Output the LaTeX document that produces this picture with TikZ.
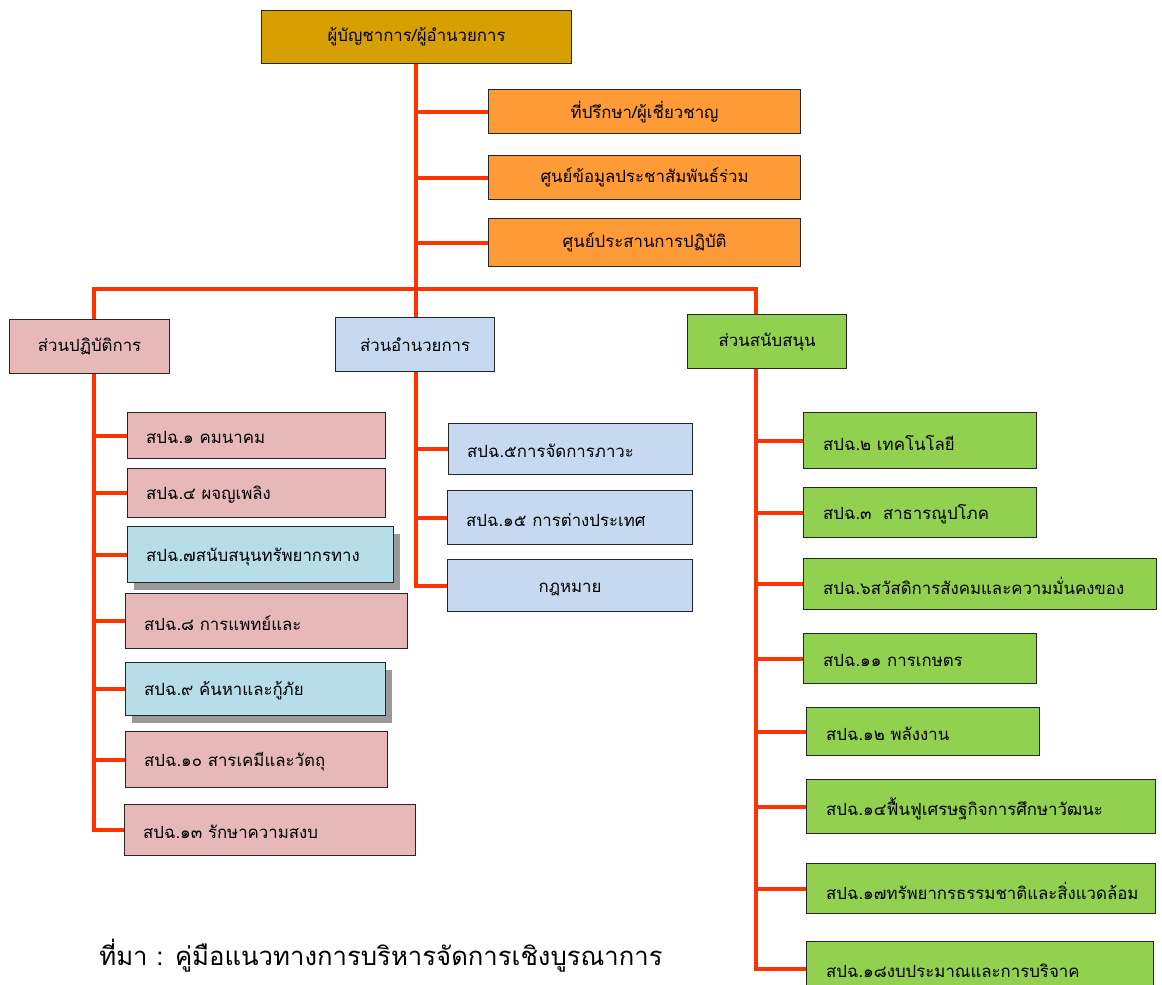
\documentclass[tikz,border=0pt]{standalone}
\usepackage{fontspec}
\newfontfamily\thaifont[Script=Thai]{Loma}
\usetikzlibrary{shadows}
\definecolor{goldc}{HTML}{D6A100}
\definecolor{orangec}{HTML}{FF9B37}
\definecolor{pinkc}{HTML}{E6B8B7}
\definecolor{bluec}{HTML}{C6D9F1}
\definecolor{cyanc}{HTML}{B7DDE8}
\definecolor{greenc}{HTML}{92D050}
\definecolor{redc}{HTML}{FF3300}
\pgfdeclarelayer{bg}
\pgfsetlayers{bg,main}
\begin{document}
\begin{tikzpicture}[x=1pt,y=-1pt,
  tfont/.style={font=\thaifont\fontsize{16.8}{20}\selectfont},
  box/.style={draw=black!85, line width=1.2pt, inner sep=0pt, anchor=north west, tfont},
  txt/.style={anchor=west, inner sep=0pt, tfont},
  conn/.style={draw=redc, line width=4pt, line join=miter},
  shad/.style={drop shadow={shadow xshift=6pt, shadow yshift=-7pt, fill=black!40, opacity=1}}]
\useasboundingbox (0,0) rectangle (1162,985);
\clip (0,0) rectangle (1162,985);

% top
\node[box, fill=goldc, minimum width=310pt, minimum height=53pt] (top) at (261,10) {ผู้บัญชาการ/ผู้อำนวยการ};
\node[box, fill=orangec, minimum width=312pt, minimum height=44pt] (o1) at (488,89) {ที่ปรึกษา/ผู้เชี่ยวชาญ};
\node[box, fill=orangec, minimum width=312pt, minimum height=44pt] (o2) at (488,155) {ศูนย์ข้อมูลประชาสัมพันธ์ร่วม};
\node[box, fill=orangec, minimum width=312pt, minimum height=48pt] (o3) at (488,218) {ศูนย์ประสานการปฏิบัติ};

% sections
\node[box, fill=pinkc, minimum width=160pt, minimum height=54pt] (secL) at (9,319) {ส่วนปฏิบัติการ};
\node[box, fill=bluec, minimum width=159pt, minimum height=54pt] (secM) at (335,317) {ส่วนอำนวยการ};
\node[box, fill=greenc, minimum width=159pt, minimum height=54pt] (secR) at (687,314) {ส่วนสนับสนุน};

% left column
\node[box, fill=pinkc, minimum width=258pt, minimum height=46pt] (l1) at (127,412) {};
\node[box, fill=pinkc, minimum width=258pt, minimum height=49pt] (l2) at (127,468) {};
\node[box, fill=cyanc, shad, minimum width=266pt, minimum height=56pt] (l3) at (127,526) {};
\node[box, fill=pinkc, minimum width=282pt, minimum height=55pt] (l4) at (125,593) {};
\node[box, fill=cyanc, shad, minimum width=260pt, minimum height=53pt] (l5) at (125,662) {};
\node[box, fill=pinkc, minimum width=262pt, minimum height=56pt] (l6) at (125,731) {};
\node[box, fill=pinkc, minimum width=291pt, minimum height=51pt] (l7) at (124,804) {};
\node[txt] (l1t) at ([xshift=19pt,yshift=-2pt]l1.west) {สปฉ.๑ คมนาคม};
\node[txt] (l2t) at ([xshift=19pt,yshift=-2pt]l2.west) {สปฉ.๔ ผจญเพลิง};
\node[txt] (l3t) at ([xshift=19pt,yshift=-2pt]l3.west) {สปฉ.๗สนับสนุนทรัพยากรทาง};
\node[txt] (l4t) at ([xshift=19pt,yshift=-2pt]l4.west) {สปฉ.๘ การแพทย์และ};
\node[txt] (l5t) at ([xshift=19pt,yshift=-2pt]l5.west) {สปฉ.๙ ค้นหาและกู้ภัย};
\node[txt] (l6t) at ([xshift=19pt,yshift=-2pt]l6.west) {สปฉ.๑๐ สารเคมีและวัตถุ};
\node[txt] (l7t) at ([xshift=19pt,yshift=-2pt]l7.west) {สปฉ.๑๓ รักษาความสงบ};

% middle column
\node[box, fill=bluec, minimum width=244pt, minimum height=51pt] (m1) at (448,423) {};
\node[box, fill=bluec, minimum width=245pt, minimum height=54pt] (m2) at (447,490) {};
\node[box, fill=bluec, minimum width=245pt, minimum height=52pt] (m3) at (447,559) {};
\node[txt] (m1t) at ([xshift=19pt,yshift=-2pt]m1.west) {สปฉ.๕การจัดการภาวะ};
\node[txt] (m2t) at ([xshift=19pt,yshift=-2pt]m2.west) {สปฉ.๑๕ การต่างประเทศ};
\node[tfont, inner sep=0pt] (m3t) at ([yshift=-4pt]m3.center) {กฎหมาย};

% right column
\node[box, fill=greenc, minimum width=233pt, minimum height=56pt] (r1) at (803,412) {};
\node[box, fill=greenc, minimum width=233pt, minimum height=50pt] (r2) at (803,487) {};
\node[box, fill=greenc, minimum width=353pt, minimum height=51pt] (r3) at (803,558) {};
\node[box, fill=greenc, minimum width=233pt, minimum height=50pt] (r4) at (803,633) {};
\node[box, fill=greenc, minimum width=233pt, minimum height=48pt] (r5) at (806,707) {};
\node[box, fill=greenc, minimum width=349pt, minimum height=54pt] (r6) at (806,779) {};
\node[box, fill=greenc, minimum width=349pt, minimum height=50pt] (r7) at (806,863) {};
\node[box, fill=greenc, minimum width=347pt, minimum height=54pt] (r8) at (806,941) {};
\node[txt] (r1t) at ([xshift=20pt,yshift=-2pt]r1.west) {สปฉ.๒ เทคโนโลยี};
\node[txt] (r2t) at ([xshift=20pt,yshift=-2pt]r2.west) {สปฉ.๓\ \ สาธารณูปโภค};
\node[txt] (r3t) at ([xshift=20pt,yshift=-2pt]r3.west) {สปฉ.๖สวัสดิการสังคมและความมั่นคงของ};
\node[txt] (r4t) at ([xshift=20pt,yshift=-2pt]r4.west) {สปฉ.๑๑ การเกษตร};
\node[txt] (r5t) at ([xshift=20pt,yshift=-2pt]r5.west) {สปฉ.๑๒ พลังงาน};
\node[txt] (r6t) at ([xshift=20pt,yshift=-2pt]r6.west) {สปฉ.๑๔ฟื้นฟูเศรษฐกิจการศึกษาวัฒนะ};
\node[txt] (r7t) at ([xshift=20pt,yshift=-2pt]r7.west) {สปฉ.๑๗ทรัพยากรธรรมชาติและสิ่งแวดล้อม};
\node[txt] (r8t) at ([xshift=20pt,yshift=-2pt]r8.west) {สปฉ.๑๘งบประมาณและการบริจาค};

% caption
\node[inner sep=0pt, font=\thaifont\fontsize{25.7}{30}\selectfont] (cap) at (381,956) {ที่มา : คู่มือแนวทางการบริหารจัดการเชิงบูรณาการ};

% connectors
\coordinate (busL) at (94,289);
\coordinate (busM) at (416,289);
\coordinate (busR) at (756,289);
\begin{pgfonlayer}{bg}
\fill[white] (0,0) rectangle (1162,985);
\draw[conn] (l7.west) -- (busL |- l7.west) -- (busL) -- (busR) -- (busR |- r8.west) -- (r8.west);
\draw[conn] (busM |- top.south) -- (busM |- m3.west) -- (m3.west);
\foreach \n in {o1,o2,o3} \draw[conn] (\n.west) -- (\n.west -| busM);
\foreach \n in {m1,m2} \draw[conn] (\n.west) -- (\n.west -| busM);
\foreach \n in {l1,l2,l3,l4,l5,l6} \draw[conn] (\n.west) -- (\n.west -| busL);
\foreach \n in {r1,r2,r3,r4,r5,r6,r7} \draw[conn] (\n.west) -- (\n.west -| busR);
\end{pgfonlayer}
\end{tikzpicture}
\end{document}
